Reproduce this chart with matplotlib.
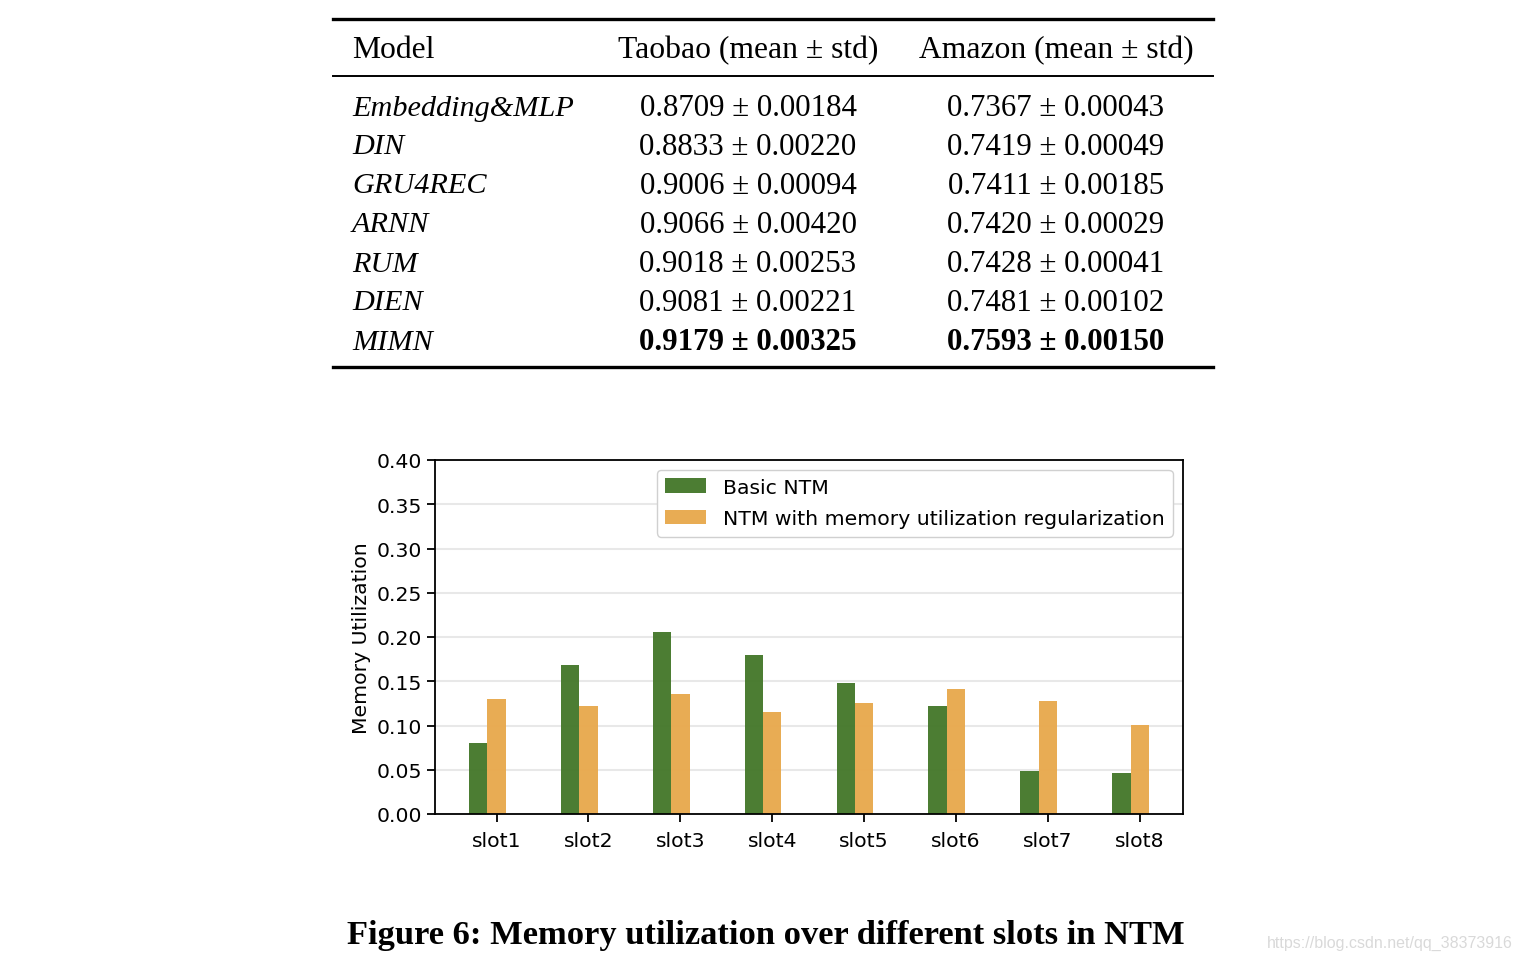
import numpy as np
import matplotlib
matplotlib.use("Agg")
import matplotlib.pyplot as plt
from matplotlib.lines import Line2D

# table data
models = ["Embedding&MLP", "DIN", "GRU4REC", "ARNN", "RUM", "DIEN", "MIMN"]
taobao = ["0.8709 ± 0.00184", "0.8833 ± 0.00220", "0.9006 ± 0.00094", "0.9066 ± 0.00420",
          "0.9018 ± 0.00253", "0.9081 ± 0.00221", "0.9179 ± 0.00325"]
amazon = ["0.7367 ± 0.00043", "0.7419 ± 0.00049", "0.7411 ± 0.00185", "0.7420 ± 0.00029",
          "0.7428 ± 0.00041", "0.7481 ± 0.00102", "0.7593 ± 0.00150"]
headers = ["Model", "Taobao (mean ± std)", "Amazon (mean ± std)"]

# bar chart data
slots = ["slot1", "slot2", "slot3", "slot4", "slot5", "slot6", "slot7", "slot8"]
basic_ntm = [0.080, 0.168, 0.206, 0.180, 0.148, 0.122, 0.049, 0.046]
ntm_reg = [0.130, 0.122, 0.136, 0.115, 0.125, 0.141, 0.128, 0.101]

W, H = 1522, 962
fig = plt.figure(figsize=(W / 100, H / 100), dpi=100)


def fx(px):
    return px / W


def fy(py):
    return 1 - py / H


serif = "Liberation Serif"

# table rules
for y, lw in [(20, 2.4), (77, 1.4), (368, 2.4)]:
    fig.add_artist(Line2D([fx(333), fx(1213)], [fy(y), fy(y)], color="black", lw=lw))

col_x = [352, 748, 1056]
fig.text(fx(col_x[0]), fy(51), headers[0], family=serif, fontsize=22.8, ha="left", va="center")
fig.text(fx(col_x[1]), fy(51), headers[1], family=serif, fontsize=22.8, ha="center", va="center")
fig.text(fx(col_x[2]), fy(51), headers[2], family=serif, fontsize=22.8, ha="center", va="center")

for i, (m, t, a) in enumerate(zip(models, taobao, amazon)):
    y = fy(108.5 + i * 39)
    w = "bold" if i == len(models) - 1 else "normal"
    fig.text(fx(col_x[0]), y, m, family=serif, style="italic", fontsize=21.8, ha="left", va="center")
    fig.text(fx(col_x[1]), y, t, family=serif, fontsize=22.2, ha="center", va="center", weight=w)
    fig.text(fx(col_x[2]), y, a, family=serif, fontsize=22.2, ha="center", va="center", weight=w)

# bar chart
fs = 14.7
ax = fig.add_axes([fx(435), fy(815), fx(1183) - fx(435), fy(461) - fy(815)])
x = np.arange(len(slots))
ax.grid(axis="y", color="#e8e8e8", lw=1.5, zorder=0)
ax.bar(x - 0.2, basic_ntm, width=0.2, color="#45782a", alpha=0.96, label="Basic NTM", zorder=2)
ax.bar(x, ntm_reg, width=0.2, color="#e8a94d", alpha=0.96,
       label="NTM with memory utilization regularization", zorder=2)
ax.set_xticks(x)
ax.set_xticklabels(slots, fontsize=fs)
ax.set_ylim(0, 0.40)
ax.set_yticks(np.arange(0, 0.41, 0.05))
ax.set_yticklabels([f"{v:.2f}" for v in np.arange(0, 0.41, 0.05)], fontsize=fs)
ax.set_ylabel("Memory Utilization", fontsize=fs, labelpad=4)
for s in ax.spines.values():
    s.set_linewidth(1.3)
ax.tick_params(length=6, width=1.3)
ax.tick_params(axis="x", pad=6)
ax.legend(loc="upper right", fontsize=fs, fancybox=True, framealpha=1, edgecolor="#d0d0d0",
          bbox_to_anchor=(0.986, 0.973), borderaxespad=0, handlelength=2.0, labelspacing=0.62)

# caption and watermark
fig.text(fx(766), fy(936), "Figure 6: Memory utilization over different slots in NTM",
         family=serif, weight="bold", fontsize=24.8, ha="center", va="center")
fig.text(fx(1513), fy(943), "https://blog.csdn.net/qq_38373916", family="Liberation Sans",
         fontsize=11.5, color="#d9d9d9", ha="right", va="center")

fig.savefig("out.png", dpi=100)
